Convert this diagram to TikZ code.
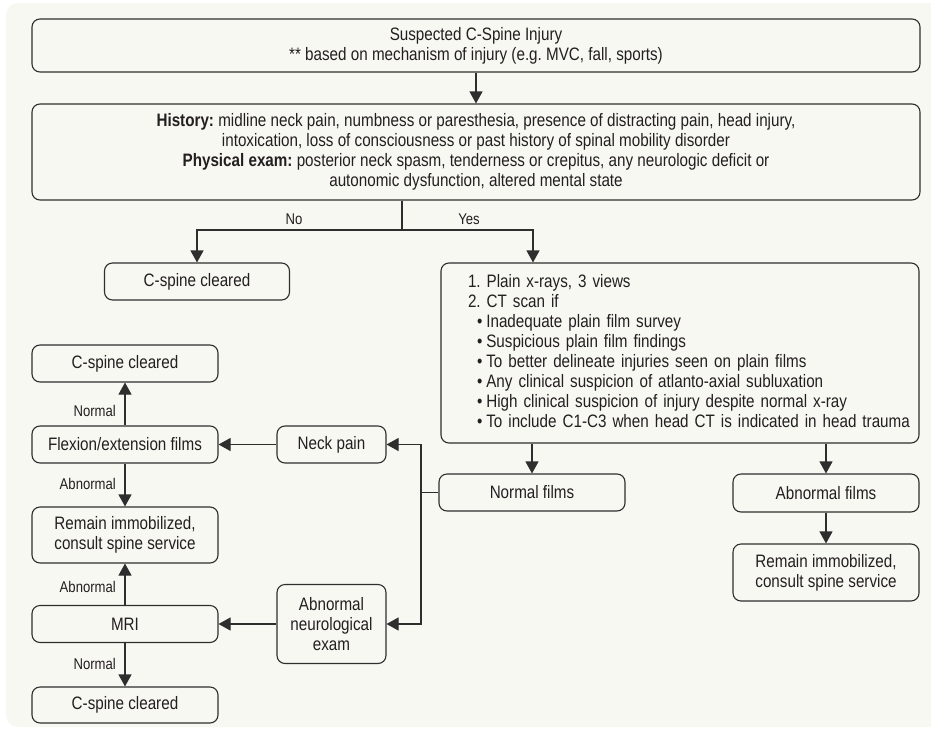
\documentclass[tikz,border=0pt]{standalone}
\usepackage{fontspec}
\setmainfont[FakeStretch=0.845]{Liberation Sans}
\usetikzlibrary{arrows.meta}
\definecolor{bgc}{HTML}{F8F8F2}
\definecolor{ln}{HTML}{2E2E2E}
\definecolor{tx}{HTML}{231F20}
\begin{document}
\begin{tikzpicture}[x=1pt,y=-1pt,
  box/.style={draw=ln, line width=1.1pt, rounded corners=8pt, fill=bgc, text=tx, align=center, inner sep=0pt, font=\fontsize{18}{20}\selectfont\frenchspacing},
  lbl/.style={text=tx, inner sep=0pt, font=\fontsize{15.5}{18}\selectfont},
  arr/.style={draw=ln, line width=1.1pt, -{Triangle[length=12pt,width=13pt]}},
  con/.style={draw=ln, line width=1.1pt}]
\useasboundingbox (0,0) rectangle (931,728);
\fill[white] (0,0) rectangle (931,728);
\fill[bgc, rounded corners=12pt] (6,3) rectangle (960,727);

% nodes
\node[box, minimum width=888pt, minimum height=53pt] (inj) at (476,45.5)
  {Suspected C-Spine Injury\\** based on mechanism of injury (e.g. MVC, fall, sports)};
\node[box, minimum width=888pt, minimum height=96pt] (hist) at (476,152)
  {\textbf{History:} midline neck pain, numbness or paresthesia, presence of distracting pain, head injury,\\
   intoxication, loss of consciousness or past history of spinal mobility disorder\\
   \textbf{Physical exam:} posterior neck spasm, tenderness or crepitus, any neurologic deficit or\\
   autonomic dysfunction, altered mental state};
\node[box, minimum width=185pt, minimum height=37pt] (clr1) at (197,281.5) {C-spine cleared};
\node[box, minimum width=478pt, minimum height=180pt, text width=450pt, inner xsep=14pt, align=left] (ct) at (680,353)
  {\hspace*{13pt}\begin{tabular}{@{}l@{}}
   1. Plain x-rays, 3 views\\
   2. CT scan if\\
   \hspace*{9pt}•\hspace{4pt}Inadequate plain film survey\\
   \hspace*{9pt}•\hspace{4pt}Suspicious plain film findings\\
   \hspace*{9pt}•\hspace{4pt}To better delineate injuries seen on plain films\\
   \hspace*{9pt}•\hspace{4pt}Any clinical suspicion of atlanto-axial subluxation\\
   \hspace*{9pt}•\hspace{4pt}High clinical suspicion of injury despite normal x-ray\\
   \hspace*{9pt}•\hspace{4pt}To include C1-C3 when head CT is indicated in head trauma
   \end{tabular}};
\node[box, minimum width=186pt, minimum height=37pt] (nf) at (532,492.5) {Normal films};
\node[box, minimum width=186pt, minimum height=38pt] (af) at (826,493) {Abnormal films};
\node[box, minimum width=186pt, minimum height=57pt] (remR) at (826,572.5) {Remain immobilized,\\consult spine service};
\node[box, minimum width=109pt, minimum height=37pt] (neck) at (331.5,444.5) {Neck pain};
\node[box, minimum width=109pt, minimum height=79pt] (neuro) at (331.5,624) {Abnormal\\neurological\\exam};
\node[box, minimum width=186pt, minimum height=37pt] (clr2) at (125,363.5) {C-spine cleared};
\node[box, minimum width=186pt, minimum height=37pt] (flex) at (125,444.5) {Flexion/extension films};
\node[box, minimum width=186pt, minimum height=56pt] (remL) at (125,535) {Remain immobilized,\\consult spine service};
\node[box, minimum width=186pt, minimum height=37pt] (mri) at (125,624) {MRI};
\node[box, minimum width=186pt, minimum height=36pt] (clr3) at (125,705) {C-spine cleared};

% coordinates
\coordinate (sp) at (402,230);
\coordinate (no) at (197,230);
\coordinate (yes) at (533,230);
\coordinate (jn) at (421,492.5);

% connectors
\draw[arr] (inj.south) -- (hist.north);
\draw[con] (hist.south -| sp) -- (sp);
\draw[arr] (sp) -- (no) -- (clr1.north);
\draw[arr] (sp) -- (yes) -- (yes |- ct.north);
\node[lbl] (nolbl) at (294,219) {No};
\node[lbl] (yeslbl) at (469,219) {Yes};

\draw[arr] (ct.south -| nf.north) -- (nf.north);
\draw[arr] (ct.south -| af.north) -- (af.north);
\draw[arr] (af.south) -- (remR.north);

\draw[con] (nf.west) -- (jn);
\draw[arr] (jn) |- (neck.east);
\draw[arr] (jn) |- (neuro.east);
\draw[arr] (neck.west) -- (flex.east);
\draw[arr] (neuro.west) -- (mri.east);

\draw[arr] (flex.north) -- (clr2.south);
\draw[arr] (flex.south) -- (remL.north);
\draw[arr] (mri.north) -- (remL.south);
\draw[arr] (mri.south) -- (clr3.north);
\node[lbl, anchor=east] (l1) at (116,411) {Normal};
\node[lbl, anchor=east] (l2) at (116,484) {Abnormal};
\node[lbl, anchor=east] (l3) at (116,587) {Abnormal};
\node[lbl, anchor=east] (l4) at (116,664) {Normal};
\end{tikzpicture}
\end{document}
